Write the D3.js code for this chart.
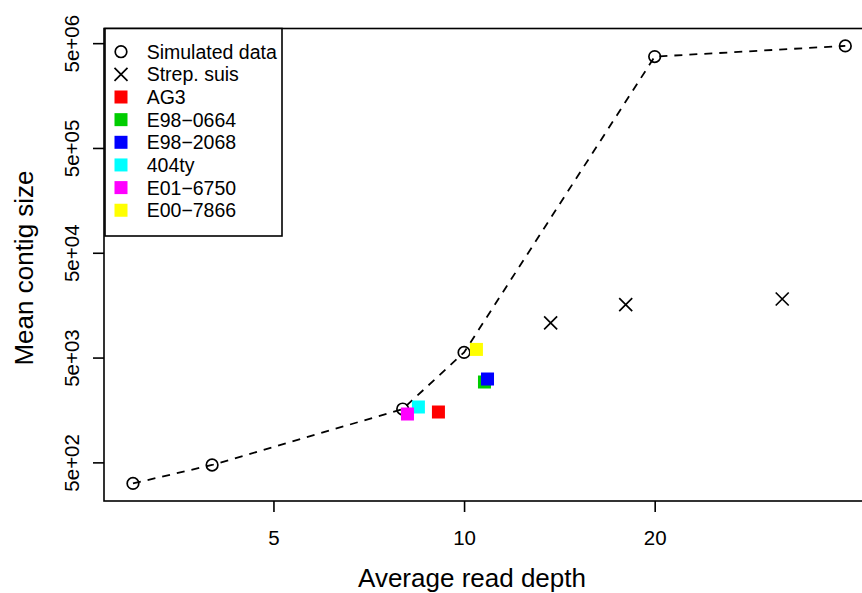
<!DOCTYPE html>
<html>
<head>
<meta charset="utf-8">
<script src="https://cdn.jsdelivr.net/npm/d3@7"></script>
<style>
    body { margin: 0; background: #fff; }
    svg text { font-family: "Liberation Sans", Arial, Helvetica, sans-serif; fill: #000; }
</style>
</head>
<body>
<div id="chart"></div>
<script>
// simulated assemblies (circles, joined by dashed line)
var simDepth = [3.0, 4.0, 8.0, 10.0, 20.0, 40.0]
var simContig = [315, 472, 1614, 5600, 3.72e6, 4.71e6]

// Strep. suis (crosses)
var strepDepth = [13.7, 18.0, 31.8]
var strepContig = [10700, 16000, 18100]

// individual strains (filled squares)
var strainNames = ["AG3", "E98\u22120664", "E98\u22122068", "404ty", "E01\u22126750", "E00\u22127866"]
var strainColors = ["#ff0000", "#00cd00", "#0000ff", "#00ffff", "#ff00ff", "#ffff00"]
var strainDepth = [9.11, 10.77, 10.89, 8.47, 8.14, 10.46]
var strainContig = [1512, 2923, 3122, 1688, 1447, 5980]

var xTicks = [5, 10, 20]
var yTicks = [5e2, 5e3, 5e4, 5e5, 5e6]
var yTickLabels = ["5e+02", "5e+03", "5e+04", "5e+05", "5e+06"]

var W = 862, H = 593

var plot = { left: 104, right: 874, top: 28.5, bottom: 501 }

var svg = d3.select("#chart")
    .append("svg")
        .attr("width", W)
        .attr("height", H)

var x = d3.scaleLog()
    .domain([2.7, 44.4])
    .range([plot.left, plot.right])

var y = d3.scaleLog()
    .domain([214, 6.9e6])
    .range([plot.bottom, plot.top])

function drawAxes(){
    var xAxis = d3.axisBottom(x)
        .tickValues(xTicks)
        .tickSize(11)
        .tickPadding(18)
        .tickFormat(d3.format("d"))

    var xg = svg.append("g")
        .attr("transform", "translate(0," + plot.bottom + ")")
        .call(xAxis)
    xg.select(".domain").remove()
    xg.selectAll("line").attr("stroke-width", 1.6)
    xg.selectAll("text")
        .attr("font-size", "20.5px")
        .attr("font-family", null)

    var yAxis = d3.axisLeft(y)
        .tickValues(yTicks)
        .tickSize(11)
        .tickFormat(function(d, i){ return yTickLabels[i] })

    var yg = svg.append("g")
        .attr("transform", "translate(" + plot.left + ",0)")
        .call(yAxis)
    yg.select(".domain").remove()
    yg.selectAll("line").attr("stroke-width", 1.6)
    // labels turned upright along the axis, like R's default las=0
    yg.selectAll("text")
        .attr("font-size", "20.5px")
        .attr("font-family", null)
        .attr("x", null)
        .attr("dy", null)
        .attr("text-anchor", "middle")
        .attr("transform", "translate(-25,0) rotate(-90)")

    // box
    svg.append("rect")
        .attr("x", plot.left)
        .attr("y", plot.top)
        .attr("width", plot.right - plot.left)
        .attr("height", plot.bottom - plot.top)
        .attr("fill", "none")
        .attr("stroke", "#000")
        .attr("stroke-width", 1.6)

    svg.append("text")
        .attr("x", (plot.left + plot.right) / 2 - 17)
        .attr("y", 587)
        .attr("text-anchor", "middle")
        .attr("font-size", "26px")
        .text("Average read depth")

    svg.append("text")
        .attr("transform", "translate(33," + 268 + ") rotate(-90)")
        .attr("text-anchor", "middle")
        .attr("font-size", "26px")
        .text("Mean contig size")
}

function drawData(){
    var sim = simDepth.map(function(d, i){ return { x: d, y: simContig[i] } })
    var strep = strepDepth.map(function(d, i){ return { x: d, y: strepContig[i] } })
    var strains = strainNames.map(function(d, i){
        return { name: d, color: strainColors[i], x: strainDepth[i], y: strainContig[i] }
    })

    svg.append("path")
        .datum(sim)
        .attr("fill", "none")
        .attr("stroke", "#000")
        .attr("stroke-width", 1.8)
        .attr("stroke-dasharray", "8,7")
        .attr("d", d3.line()
            .x(function(d){ return x(d.x) })
            .y(function(d){ return y(d.y) })
        )

    svg.selectAll(".sim-pt")
        .data(sim)
        .enter()
        .append("circle")
        .attr("class", "sim-pt")
        .attr("cx", function(d){ return x(d.x) })
        .attr("cy", function(d){ return y(d.y) })
        .attr("r", 5.8)
        .attr("fill", "none")
        .attr("stroke", "#000")
        .attr("stroke-width", 1.7)

    svg.selectAll(".strep-pt")
        .data(strep)
        .enter()
        .append("path")
        .attr("class", "strep-pt")
        .attr("transform", function(d){ return "translate(" + x(d.x) + "," + y(d.y) + ")" })
        .attr("d", "M-6.5,-6.5L6.5,6.5M-6.5,6.5L6.5,-6.5")
        .attr("stroke", "#000")
        .attr("stroke-width", 1.7)

    svg.selectAll(".strain-pt")
        .data(strains)
        .enter()
        .append("rect")
        .attr("class", "strain-pt")
        .attr("x", function(d){ return x(d.x) - 6.5 })
        .attr("y", function(d){ return y(d.y) - 6.5 })
        .attr("width", 13)
        .attr("height", 13)
        .attr("fill", function(d){ return d.color })
}

function drawLegend(){
    var lx = 105, ly = 28.5, lw = 177, lh = 207.5
    var rowH = 22.65, firstRow = 51.7

    var leg = svg.append("g")

    leg.append("rect")
        .attr("x", lx)
        .attr("y", ly)
        .attr("width", lw)
        .attr("height", lh)
        .attr("fill", "#fff")
        .attr("stroke", "#000")
        .attr("stroke-width", 1.6)

    var entries = [{ name: "Simulated data", type: "circle" }, { name: "Strep. suis", type: "cross" }]
    strainNames.forEach(function(d, i){ entries.push({ name: d, type: "square", color: strainColors[i] }) })

    var rows = leg.selectAll(".leg-row")
        .data(entries)
        .enter()
        .append("g")
        .attr("class", "leg-row")
        .attr("transform", function(d, i){ return "translate(121," + (firstRow + i * rowH) + ")" })

    rows.filter(function(d){ return d.type == "circle" })
        .append("circle")
        .attr("r", 5.8)
        .attr("fill", "none")
        .attr("stroke", "#000")
        .attr("stroke-width", 1.7)

    rows.filter(function(d){ return d.type == "cross" })
        .append("path")
        .attr("d", "M-6.5,-6.5L6.5,6.5M-6.5,6.5L6.5,-6.5")
        .attr("stroke", "#000")
        .attr("stroke-width", 1.7)

    rows.filter(function(d){ return d.type == "square" })
        .append("rect")
        .attr("x", -6.5)
        .attr("y", -6.5)
        .attr("width", 13)
        .attr("height", 13)
        .attr("fill", function(d){ return d.color })

    rows.append("text")
        .attr("x", 25.7)
        .attr("y", 0)
        .attr("dominant-baseline", "central")
        .attr("font-size", "19.5px")
        .text(function(d){ return d.name })
}

drawAxes()
drawData()
drawLegend()
</script>
</body>
</html>
